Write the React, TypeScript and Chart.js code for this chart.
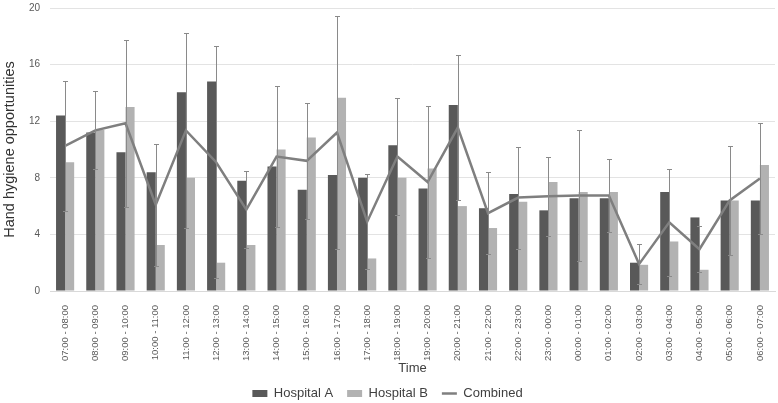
import React, { useEffect, useRef } from "react";
import { Chart, registerables } from "chart.js";

Chart.register(...registerables);

const categories = [
  "07:00 - 08:00", "08:00 - 09:00", "09:00 - 10:00", "10:00 - 11:00",
  "11:00 - 12:00", "12:00 - 13:00", "13:00 - 14:00", "14:00 - 15:00",
  "15:00 - 16:00", "16:00 - 17:00", "17:00 - 18:00", "18:00 - 19:00",
  "19:00 - 20:00", "20:00 - 21:00", "21:00 - 22:00", "22:00 - 23:00",
  "23:00 - 00:00", "00:00 - 01:00", "01:00 - 02:00", "02:00 - 03:00",
  "03:00 - 04:00", "04:00 - 05:00", "05:00 - 06:00", "06:00 - 07:00",
];

const hospitalA = [12.4, 11.2, 9.8, 8.4, 14.05, 14.8, 7.8, 8.8, 7.15, 8.2, 8.0, 10.3, 7.25, 13.15, 5.85, 6.85, 5.7, 6.55, 6.55, 2.0, 7.0, 5.2, 6.4, 6.4];
const hospitalB = [9.1, 11.4, 13.0, 3.25, 8.0, 2.0, 3.25, 10.0, 10.85, 13.65, 2.3, 8.0, 8.65, 6.0, 4.45, 6.3, 7.7, 7.0, 7.0, 1.85, 3.5, 1.5, 6.4, 8.9];
const combined = [10.25, 11.35, 11.85, 6.1, 11.35, 9.1, 5.75, 9.5, 9.2, 11.2, 4.9, 9.5, 7.7, 11.55, 5.5, 6.6, 6.7, 6.75, 6.75, 1.9, 4.85, 2.95, 6.4, 7.95];
const combinedErr = [4.6, 2.75, 5.9, 4.3, 6.9, 8.2, 2.7, 5.0, 4.1, 8.25, 3.35, 4.15, 5.4, 5.1, 2.9, 3.6, 2.8, 4.6, 2.6, 1.4, 3.8, 1.63, 3.85, 3.9];

const yMin = 0;
const yMax = 20;
const yStep = 4;

const FONT = "'Liberation Sans', Arial, sans-serif";

const errorBarPlugin = {
  id: "errorBars",
  afterDatasetsDraw(chart: any) {
    const meta = chart.getDatasetMeta(2);
    const yScale = chart.scales.y;
    const ctx = chart.ctx;
    ctx.save();
    ctx.strokeStyle = "#8a8a8a";
    ctx.lineWidth = 1;
    meta.data.forEach((pt: any, i: number) => {
      const v = combined[i];
      const e = combinedErr[i];
      const x = Math.round(pt.x) + 0.5;
      const yt = Math.round(yScale.getPixelForValue(v + e)) + 0.5;
      const yb = Math.round(yScale.getPixelForValue(Math.max(0, v - e))) + 0.5;
      ctx.beginPath();
      ctx.moveTo(x, yt);
      ctx.lineTo(x, yb);
      ctx.moveTo(x - 2.5, yt);
      ctx.lineTo(x + 2.5, yt);
      ctx.moveTo(x - 2.5, yb);
      ctx.lineTo(x + 2.5, yb);
      ctx.stroke();
    });
    ctx.restore();
  },
};

export default function App() {
  const ref = useRef<HTMLCanvasElement | null>(null);

  useEffect(() => {
    if (!ref.current) return;
    const chart = new Chart(ref.current, {
      type: "bar",
      data: {
        labels: categories,
        datasets: [
          {
            type: "bar",
            label: "Hospital A",
            data: hospitalA,
            backgroundColor: "#595959",
            borderWidth: 0,
            categoryPercentage: 0.6,
            barPercentage: 1.0,
            order: 1,
            pointStyle: "rect",
          } as any,
          {
            type: "bar",
            label: "Hospital B",
            data: hospitalB,
            backgroundColor: "#b2b2b2",
            borderWidth: 0,
            categoryPercentage: 0.6,
            barPercentage: 1.0,
            order: 1,
            pointStyle: "rect",
          } as any,
          {
            type: "line",
            label: "Combined",
            data: combined,
            borderColor: "#7f7f7f",
            backgroundColor: "#7f7f7f",
            borderWidth: 2.5,
            pointRadius: 0,
            tension: 0,
            fill: false,
            order: 0,
            pointStyle: "line",
          } as any,
        ],
      },
      options: {
        responsive: false,
        animation: false,
        layout: { padding: { left: 0, right: 3, top: 8, bottom: -7 } },
        plugins: {
          tooltip: { enabled: false },
          legend: {
            position: "bottom",
            labels: {
              usePointStyle: true,
              pointStyleWidth: 15,
              boxWidth: 15,
              boxHeight: 7,
              padding: 14,
              color: "#404040",
              font: { family: FONT, size: 13 },
              sort: (a: any, b: any) => a.datasetIndex - b.datasetIndex,
            },
          },
        },
        scales: {
          x: {
            grid: { display: false },
            border: { display: true, color: "#d9d9d9" },
            ticks: {
              minRotation: 90,
              maxRotation: 90,
              autoSkip: false,
              padding: 6,
              color: "#595959",
              font: { family: FONT, size: 9.5 },
            },
            title: {
              display: true,
              text: "Time",
              color: "#404040",
              font: { family: FONT, size: 13 },
              padding: { top: 0, bottom: -3.5 },
            },
            afterFit: (scale: any) => {
              scale.height = 82;
            },
          },
          y: {
            min: yMin,
            max: yMax,
            grid: { color: "#e3e3e3", drawTicks: true, tickLength: 10, tickColor: "rgba(0,0,0,0)" },
            border: { display: false },
            ticks: {
              stepSize: yStep,
              padding: 0,
              color: "#595959",
              font: { family: FONT, size: 10 },
            },
            title: {
              display: true,
              text: "Hand hygiene opportunities",
              color: "#303030",
              font: { family: FONT, size: 14.5 },
              padding: { top: 1, bottom: 0 },
            },
            afterFit: (scale: any) => {
              scale.width = 50;
            },
          },
        },
      },
      plugins: [errorBarPlugin],
    });
    return () => chart.destroy();
  }, []);

  return (
    <div style={{ position: "fixed", left: 0, top: 0, width: 778, height: 403, background: "#fff" }}>
      <canvas ref={ref} width={778} height={403} />
    </div>
  );
}
